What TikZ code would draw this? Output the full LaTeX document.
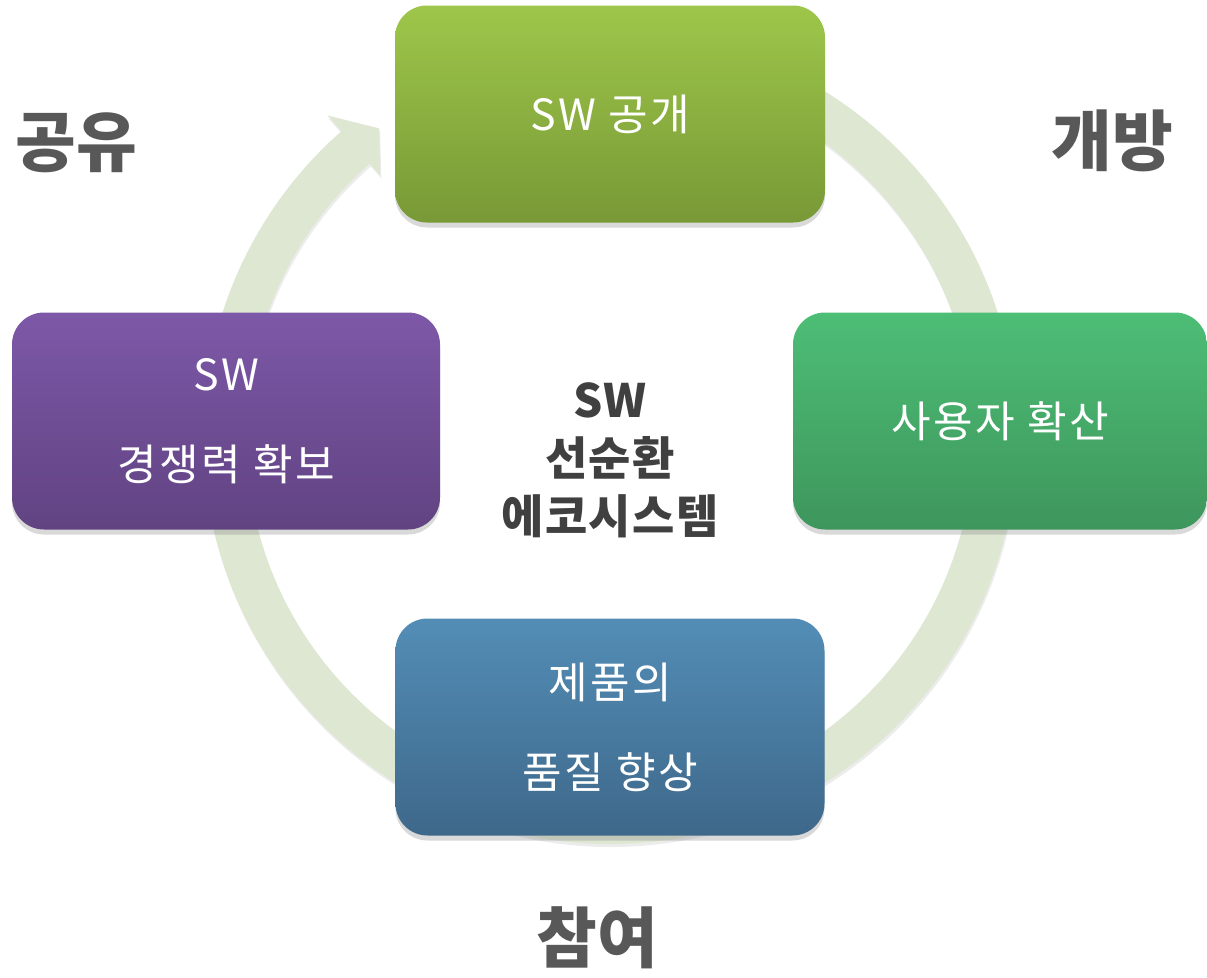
\documentclass[tikz,border=0pt]{standalone}
\usepackage{fontspec}
\setmainfont{Noto Sans CJK KR}
\usepackage{tikz}
\usetikzlibrary{shadows}
\definecolor{ring}{RGB}{222, 231, 210}
\definecolor{limetop}{RGB}{158, 198, 74}
\definecolor{limebot}{RGB}{120, 153, 54}
\definecolor{greentop}{RGB}{77, 190, 118}
\definecolor{greenbot}{RGB}{62, 150, 92}
\definecolor{purptop}{RGB}{125, 88, 168}
\definecolor{purpbot}{RGB}{97, 67, 130}
\definecolor{bluetop}{RGB}{83, 141, 182}
\definecolor{bluebot}{RGB}{62, 104, 138}
\definecolor{labgray}{RGB}{88, 88, 88}
\definecolor{ecogray}{RGB}{64, 64, 64}

\begin{document}
\begin{tikzpicture}[
   x=1pt, y=1pt,
   stepbox/.style={rectangle, rounded corners=32pt, minimum width=430,
                   minimum height=217, inner sep=0, text=white, align=center,
                   font=\fontsize{43}{90}\selectfont\addfontfeatures{LetterSpace=6},
                   drop shadow={opacity=0.3, shadow xshift=0pt, shadow yshift=-5pt}},
   cornerlab/.style={text=labgray, font=\fontsize{66}{70}\selectfont\bfseries},
   ecotext/.style={text=ecogray, align=center,
                   font=\fontsize{46}{58}\selectfont\bfseries\addfontfeatures{LetterSpace=3}}
  ]

  \useasboundingbox (0, 0) rectangle (1207, -977);

  % Ring radii
  \pgfmathsetmacro{\ro}{407}
  \pgfmathsetmacro{\ri}{364}
  \pgfmathsetmacro{\rm}{385.5}

  \coordinate (ctr) at (610, -437);

  \begin{scope}[shift={(ctr)}]
    \fill[ring, drop shadow={opacity=0.15, shadow xshift=1pt, shadow yshift=-3pt}]
      (95:\ro) arc[start angle=95, end angle=-228.7, radius=\ro]
      -- (-228.7:428) -- (-233.2:\rm) -- (-228.7:348)
      -- (-228.7:\ri) arc[start angle=-228.7, end angle=95, radius=\ri]
      -- cycle;
  \end{scope}

  \node (open) at (610, -114) [stepbox, top color=limetop, bottom color=limebot] {SW 공개};
  \node (users) at (1000, -421) [stepbox, minimum width=414, top color=greentop, bottom color=greenbot] {사용자 확산};
  \node (quality) at (610, -727) [stepbox, minimum width=429, top color=bluetop, bottom color=bluebot] {제품의\\품질 향상};
  \node (compete) at (226, -421) [stepbox, minimum width=428, top color=purptop, bottom color=purpbot] {SW\\경쟁력 확보};

  \node (eco) at (610, -460) [ecotext] {SW\\선순환\\에코시스템};

  \foreach \name/\x/\y/\txt in {share/76/-143/공유, openness/1112/-141/개방, join/597/-938/참여} {
    \node (\name) at (\x, \y) [cornerlab] {\txt};
  }

\end{tikzpicture}
\end{document}
